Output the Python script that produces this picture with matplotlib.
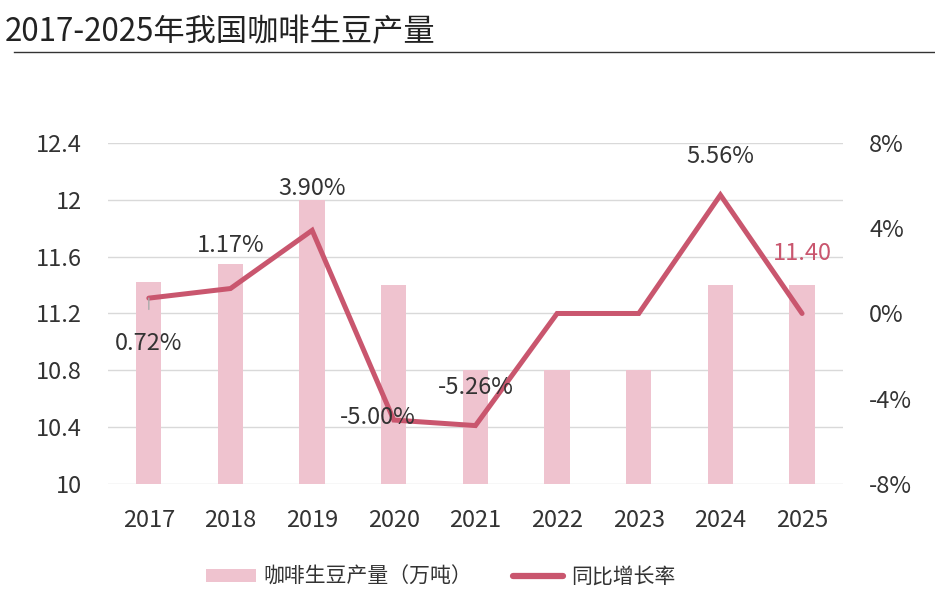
import matplotlib
matplotlib.use("Agg")
import matplotlib.pyplot as plt
from matplotlib.patches import Patch
from matplotlib.lines import Line2D

plt.rcParams['font.family'] = ['Noto Sans CJK SC', 'DejaVu Sans']

years = ["2017", "2018", "2019", "2020", "2021", "2022", "2023", "2024", "2025"]
output = [11.42, 11.55, 12.0, 11.4, 10.8, 10.8, 10.8, 11.4, 11.4]   # 万吨
growth = [0.72, 1.17, 3.90, -5.00, -5.26, 0.0, 0.0, 5.56, 0.0]       # %

bar_color = "#EFC3CF"
line_color = "#C9566E"
text_color = "#333333"

fig = plt.figure(figsize=(9.35, 6.04), dpi=100)
ax = fig.add_axes([0.1155, 0.1987, 0.786, 0.5646])
ax2 = ax.twinx()

x = list(range(len(years)))
ax.bar(x, output, width=0.31, color=bar_color, zorder=2)
ax.set_ylim(10, 12.4)
ax.set_yticks([10, 10.4, 10.8, 11.2, 11.6, 12, 12.4])
ax.set_yticklabels(["10", "10.4", "10.8", "11.2", "11.6", "12", "12.4"])
ax.set_xlim(-0.5, 8.5)
ax.set_xticks(x)
ax.set_xticklabels(years)
ax.grid(axis="y", color="#D9D9D9", linewidth=1, zorder=0)
ax.set_axisbelow(True)

ax2.plot(x, growth, color=line_color, linewidth=3.6, solid_capstyle="round",
         solid_joinstyle="miter", zorder=3)
ax2.set_ylim(-8, 8)
ax2.set_yticks([-8, -4, 0, 4, 8])
ax2.set_yticklabels(["-8%", "-4%", "0%", "4%", "8%"])

for a in (ax, ax2):
    for s in a.spines.values():
        s.set_visible(False)
ax.tick_params(axis="both", length=0, labelsize=17, labelcolor=text_color)
ax.tick_params(axis="y", pad=19)
ax.tick_params(axis="x", pad=18)
ax2.tick_params(axis="y", length=0, labelsize=17, labelcolor=text_color, pad=19)

# growth labels (offset in pixels from each point)
label_offsets = {0: (0, -45), 1: (0, 43), 2: (0, 42), 3: (-16, 3), 4: (0, 38), 7: (0, 38)}
for i, (dx, dy) in label_offsets.items():
    kw = {}
    if i == 0:
        kw["arrowprops"] = dict(arrowstyle="-", color="#AAAAAA", lw=1, shrinkA=14, shrinkB=0)
    ax2.annotate(f"{growth[i]:.2f}%", xy=(x[i], growth[i]), xytext=(dx, dy),
                 textcoords="offset pixels", ha="center", va="center",
                 fontsize=17, color=text_color, zorder=4, **kw)

# value label on the last bar
ax.annotate(f"{output[-1]:.2f}", xy=(x[-1], output[-1]), xytext=(0, 32),
            textcoords="offset pixels", ha="center", va="center",
            fontsize=17, color=line_color)

fig.text(0.005, 0.947, "2017-2025年我国咖啡生豆产量", fontsize=22.5, color="#222222",
         ha="left", va="center")
fig.add_artist(Line2D([0.015, 1.0], [0.914, 0.914], color="#333333", linewidth=1))

handles = [Patch(facecolor=bar_color, edgecolor="none"),
           Line2D([0], [0], color=line_color, linewidth=4.5, solid_capstyle="round")]
fig.legend(handles, ["咖啡生豆产量（万吨）", "同比增长率"], loc="center",
           bbox_to_anchor=(0.471, 0.045), ncol=2, frameon=False, fontsize=15,
           handlelength=2.4, handleheight=0.6, handletextpad=0.35, columnspacing=2.0,
           labelcolor=text_color)

fig.savefig("out.png", dpi=100)
